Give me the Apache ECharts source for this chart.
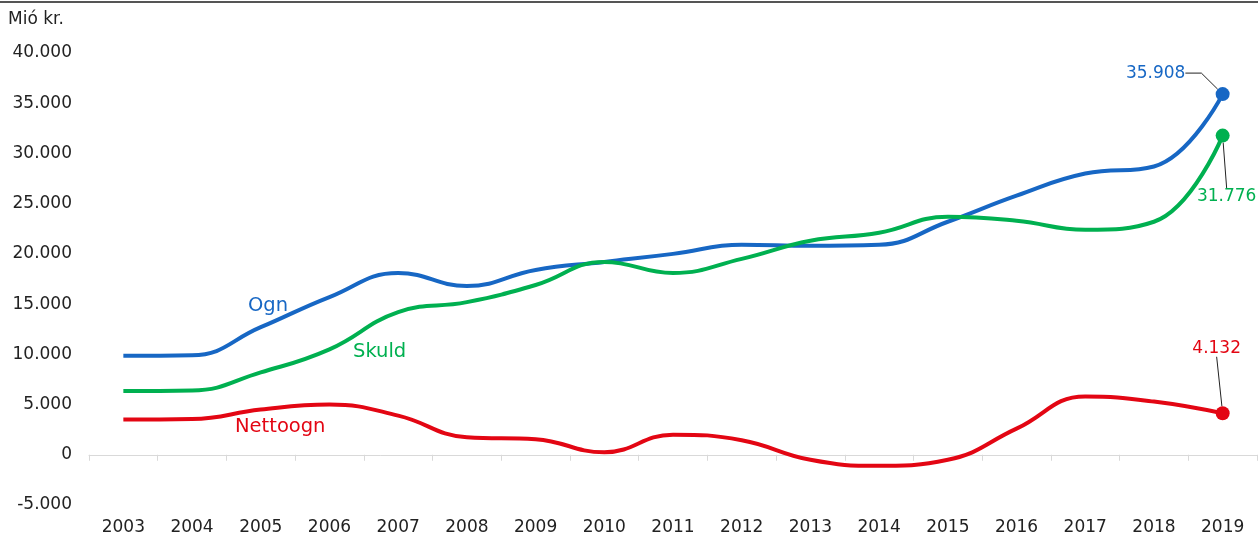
<!DOCTYPE html>
<html>
<head>
<meta charset="utf-8">
<script src="https://cdn.jsdelivr.net/npm/echarts@6/dist/echarts.min.js"></script>
<style>
html,body{margin:0;padding:0;background:#fff;}
#c{width:1258px;height:536px;}
</style>
</head>
<body>
<div id="c"></div>
<script>
const years = ['2003','2004','2005','2006','2007','2008','2009','2010','2011','2012','2013','2014','2015','2016','2017','2018','2019'];
const ogn =      [9850, 9900, 12700, 15700, 18100, 16800, 18400, 19200, 20000, 20900, 20800, 20900, 23200, 25800, 28000, 28700, 35908];
const skuld =    [6350, 6400, 8200, 10500, 14200, 15200, 16900, 19200, 18100, 19500, 21300, 22100, 23700, 23300, 22400, 23200, 31776];
const nettoogn = [3500, 3550, 4500, 5000, 3900, 1750, 1550, 250, 2000, 1450, -500, -1100, -500, 2600, 5800, 5300, 4132];
const yTicks = {min: -5000, max: 40000, interval: 5000};
const unitLabel = 'Mió kr.';

const FONT = 'DejaVu Sans';
const BLUE = '#1767c4', GREEN = '#00b050', RED = '#e30613';

function fmt(v){
  const s = Math.abs(Math.round(v)).toString().replace(/\B(?=(\d{3})+(?!\d))/g, '.');
  return (v < 0 ? '-' : '') + s;
}

function mkData(arr, color, pad){
  return arr.map((v, i) => i === arr.length - 1
    ? {value: v, symbol: 'circle', symbolSize: 14,
       label: {show: true, position: 'inside', formatter: p => fmt(p.value), color: color,
               fontFamily: FONT, fontSize: 17, padding: pad}}
    : {value: v, symbol: 'none'});
}

function mkSeries(name, arr, color, offset){
  return {
    name: name, type: 'line', smooth: 0.45, data: mkData(arr, color, offset.pad),
    showAllSymbol: true,
    lineStyle: {width: 4, color: color},
    itemStyle: {color: color},
    emphasis: {disabled: true},
    labelLine: {show: true, length2: offset.l2 || 0, lineStyle: {color: '#222', width: 1}},
    labelLayout: p => p.dataIndex === arr.length - 1 ? {dx: offset.dx, dy: offset.dy} : {},
    z: 3
  };
}

const chart = echarts.init(document.getElementById('c'), null, {renderer: 'canvas'});
chart.setOption({
  animation: false,
  grid: {left: 89, right: 1, top: 53, bottom: 31, containLabel: false},
  xAxis: [
    {type: 'category', data: years, boundaryGap: true,
     axisLine: {show: false, onZero: false}, axisTick: {show: false},
     axisLabel: {color: '#222', fontFamily: FONT, fontSize: 17, margin: 14}},
    {type: 'category', data: years, boundaryGap: true, position: 'bottom',
     axisLine: {show: true, onZero: true, lineStyle: {color: '#d9d9d9', width: 1}},
     axisTick: {show: true, length: 6, lineStyle: {color: '#d9d9d9'}},
     axisLabel: {show: false}}
  ],
  yAxis: {type: 'value', min: yTicks.min, max: yTicks.max, interval: yTicks.interval,
    axisLine: {show: false}, axisTick: {show: false}, splitLine: {show: false},
    axisLabel: {color: '#222', fontFamily: FONT, fontSize: 17, margin: 17, padding: [7, 0, 0, 0], formatter: v => fmt(v)}},
  series: [
    mkSeries('Ogn', ogn, BLUE, {dx: -63, dy: -21, l2: 16, pad: [0, 8, 0, 0]}),
    mkSeries('Skuld', skuld, GREEN, {dx: 4, dy: 61, l2: 0, pad: [6, 0, 0, 0]}),
    mkSeries('Nettoogn', nettoogn, RED, {dx: -6, dy: -65, l2: 0, pad: [0, 0, 6, 0]})
  ],
  graphic: [
    {type: 'line', shape: {x1: 0, y1: 2, x2: 1258, y2: 2}, style: {stroke: '#555', lineWidth: 2}},
    {type: 'text', left: 8, top: 11, style: {text: unitLabel, fill: '#222', font: '17px "DejaVu Sans"'}},
    {type: 'text', left: 248, top: 296, style: {text: 'Ogn', fill: BLUE, font: '19.5px "DejaVu Sans"'}},
    {type: 'text', left: 353, top: 342, style: {text: 'Skuld', fill: GREEN, font: '19.5px "DejaVu Sans"'}},
    {type: 'text', left: 235, top: 417, style: {text: 'Nettoogn', fill: RED, font: '19.5px "DejaVu Sans"'}}
  ]
});
</script>
</body>
</html>
